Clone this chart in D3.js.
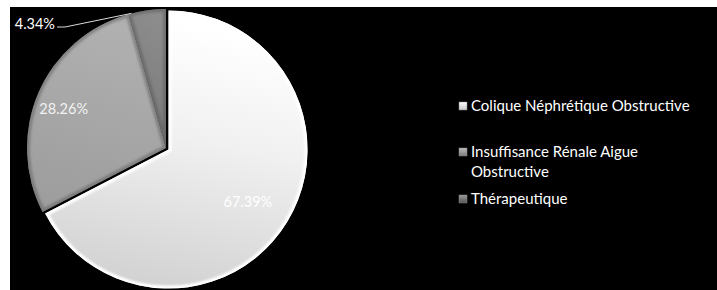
<!DOCTYPE html>
<html><head><meta charset="utf-8">
<script src="https://cdn.jsdelivr.net/npm/d3@7"></script>
<style>
html,body{margin:0;padding:0;background:#fff;}
svg{display:block;}
text{font-family:Lato,"Open Sans",sans-serif;}
</style></head>
<body>
<svg id="c" width="717" height="290"></svg>
<script>
const categories = ["Colique Néphrétique Obstructive", "Insuffisance Rénale Aigue Obstructive", "Thérapeutique"];
const legendLines = [["Colique Néphrétique Obstructive"], ["Insuffisance Rénale Aigue", "Obstructive"], ["Thérapeutique"]];
const values = [67.39, 28.26, 4.34];
const valueLabels = ["67.39%", "28.26%", "4.34%"];

const svg = d3.select("#c");
const defs = svg.append("defs");

svg.append("rect").attr("x", 10).attr("y", 7).attr("width", 707).attr("height", 283).attr("fill", "#000");

const grads = [
  {id: "g0", stops: [["0%", "#ffffff"], ["40%", "#f0f0f0"], ["100%", "#cecece"]]},
  {id: "g1", stops: [["0%", "#b0b0b0"], ["100%", "#9c9c9c"]]},
  {id: "g2", stops: [["0%", "#8c8c8c"], ["100%", "#767676"]]}
];
grads.forEach(g => {
  const lg = defs.append("linearGradient").attr("id", g.id)
    .attr("x1", "0.3").attr("y1", "0").attr("x2", "0.1").attr("y2", "1");
  g.stops.forEach(s => lg.append("stop").attr("offset", s[0]).attr("stop-color", s[1]));
});
const lgGrads = [["#ffffff", "#c8c8c8"], ["#bdbdbd", "#7a7a7a"], ["#9a9a9a", "#555555"]];
lgGrads.forEach((c, i) => {
  const lg = defs.append("linearGradient").attr("id", "lg" + i)
    .attr("x1", 0).attr("y1", 0).attr("x2", 0).attr("y2", 1);
  lg.append("stop").attr("offset", "0%").attr("stop-color", c[0]);
  lg.append("stop").attr("offset", "100%").attr("stop-color", c[1]);
});
defs.append("filter").attr("id", "blur").append("feGaussianBlur").attr("stdDeviation", 1.2);

const cx = 166, cy = 148, r = 139;
const pie = d3.pie().sort(null).value(d => d)(values);
const arc = d3.arc().innerRadius(0).outerRadius(r);
const explode = [3, 0, 0];

const g = svg.append("g").attr("transform", `translate(${cx},${cy})`);

pie.forEach((p, i) => {
  const mid = (p.startAngle + p.endAngle) / 2;
  const dx = Math.sin(mid) * explode[i], dy = -Math.cos(mid) * explode[i];
  const sg = g.append("g").attr("transform", `translate(${dx},${dy})`);
  const cid = "clip" + i;
  defs.append("clipPath").attr("id", cid).append("path").attr("d", arc(p));
  sg.append("path").attr("d", arc(p)).attr("fill", `url(#g${i})`);
  const bev = sg.append("g").attr("clip-path", `url(#${cid})`);
  bev.append("path").attr("d", arc(p)).attr("fill", "none")
    .attr("stroke", i === 0 ? "#ffffff" : "#555").attr("stroke-opacity", i === 0 ? 1 : 0.45)
    .attr("stroke-width", 6).attr("filter", "url(#blur)");
});

// inside labels
const labelArc = d3.arc().innerRadius(r * 0.74).outerRadius(r * 0.74);
const labelShift = [[-6, 0], [-8, 2]];
[0, 1].forEach(i => {
  const c = labelArc.centroid(pie[i]);
  g.append("text").attr("x", c[0] + labelShift[i][0]).attr("y", c[1] + labelShift[i][1])
    .attr("text-anchor", "middle").attr("dominant-baseline", "central")
    .attr("fill", i === 0 ? "#ffffff" : "#f2f2f2").attr("font-size", 14.5).text(valueLabels[i]);
});

// outside label with leader for smallest slice
const p2 = pie[2];
const edge = d3.arc().innerRadius(r).outerRadius(r).centroid({startAngle: p2.startAngle + 0.02, endAngle: p2.startAngle + 0.02});
const lx = 57 - cx, ly = 27 - cy;
g.append("path").attr("d", `M${lx},${ly}L${lx + 8},${ly}L${edge[0]},${edge[1]}`)
  .attr("fill", "none").attr("stroke", "#d9d9d9").attr("stroke-width", 1);
g.append("text").attr("x", lx - 2).attr("y", ly - 4).attr("text-anchor", "end")
  .attr("dominant-baseline", "central").attr("fill", "#ffffff").attr("font-size", 14.5).text(valueLabels[2]);

// legend
const legY = [106, 152, 199];
const leg = svg.append("g");
categories.forEach((cat, i) => {
  leg.append("rect").attr("x", 459).attr("y", legY[i] - 4).attr("width", 8).attr("height", 8)
    .attr("fill", `url(#lg${i})`).attr("stroke", "#888").attr("stroke-width", 0.5);
  const t = leg.append("text").attr("x", 471).attr("y", legY[i] + 5)
    .attr("fill", "#ffffff").attr("font-size", 15);
  legendLines[i].forEach((ln, j) => {
    t.append("tspan").attr("x", 471).attr("dy", j === 0 ? 0 : 20).text(ln);
  });
});
</script>
</body></html>
